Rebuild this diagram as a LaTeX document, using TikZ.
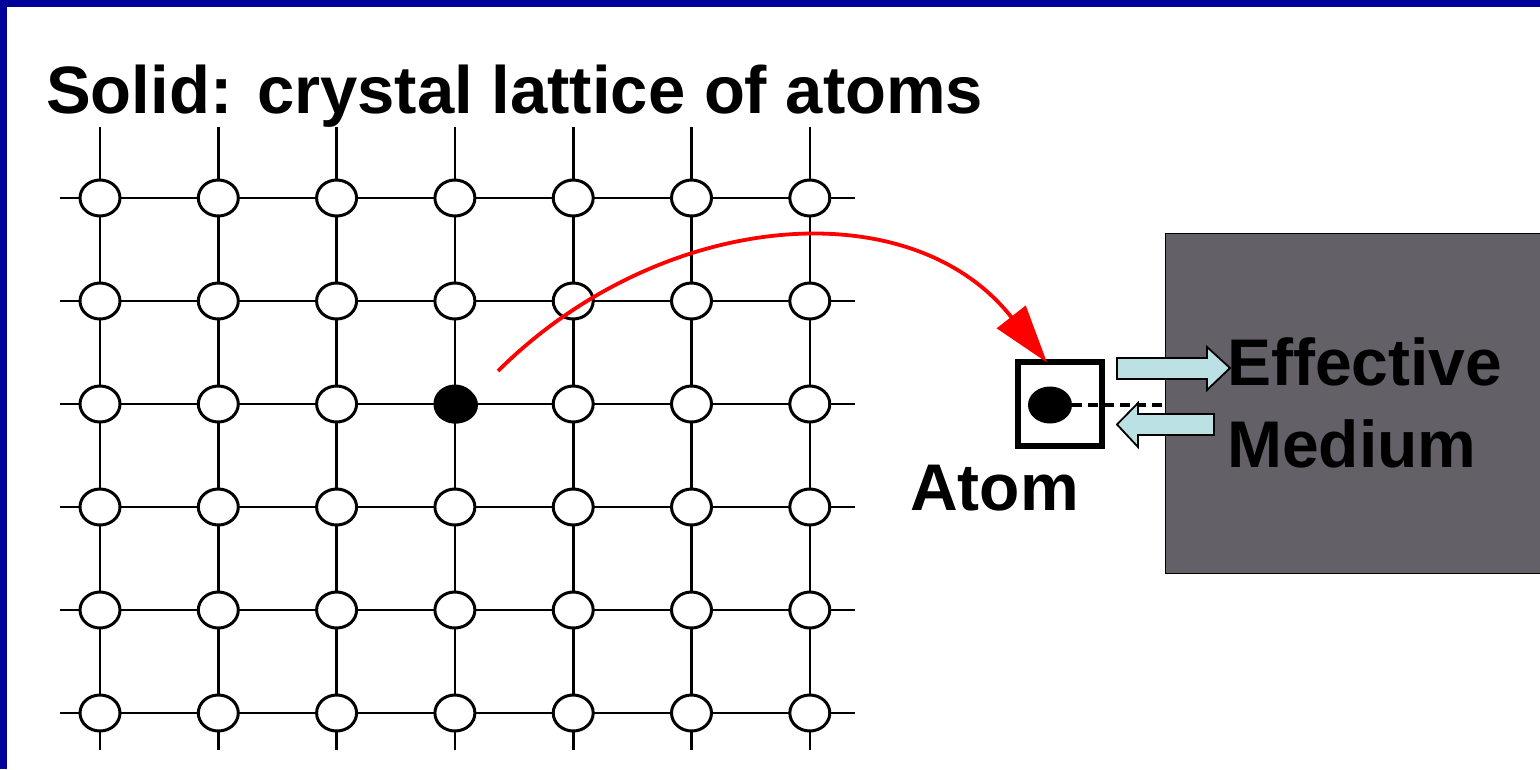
\documentclass[tikz,border=0pt]{standalone}
\usepackage{fontspec}
\setmainfont{Liberation Sans}
\usetikzlibrary{arrows.meta,positioning,calc,shapes.geometric}

\definecolor{frameblue}{RGB}{0,0,155}
\definecolor{mediumgray}{RGB}{100,96,104}
\definecolor{flowcyan}{RGB}{188,225,228}

\begin{document}
\begin{tikzpicture}[
  x=1pt, y=-1pt,
  big/.style={font=\fontsize{66}{82}\selectfont\bfseries, inner sep=0pt, anchor=base west},
  bond/.style={line width=2.6pt},
  site/.style={ellipse, draw, line width=3pt, fill=white, minimum width=40pt, minimum height=36pt, inner sep=0pt},
  picked/.style={ellipse, fill=black, minimum width=44pt, minimum height=37pt, inner sep=0pt},
  medium/.style={draw, line width=1.2pt, fill=mediumgray, anchor=north west, minimum width=400pt, minimum height=340pt},
  flow/.style={draw, line width=1.8pt, fill=flowcyan},
  jump/.style={red, line width=3.8pt, -{Triangle[length=58pt,width=36pt]}}]
  \useasboundingbox (0,0) rectangle (1540,769);
  \fill[frameblue] (0,0) rectangle (7,769);
  \fill[frameblue] (0,0) rectangle (1540,7);
  \node[big, font=\fontsize{67}{82}\selectfont\bfseries] (title) at (46,113) {Solid: crystal lattice of atoms};
  % lattice
  \foreach \j in {0,...,5}
    \draw[bond] (60,198+103*\j) -- (855,198+103*\j);
  \foreach \i in {0,...,6}
    \draw[bond] (100+118.3*\i,127) -- (100+118.3*\i,750);
  \foreach \i in {0,...,6}
    \foreach \j in {0,...,5}
      \node[site] (a-\i-\j) at (100+118.3*\i,198+103*\j) {};
  \node[picked] (a-3-2) at (456,405) {};
  % effective medium
  \node[medium] (medium) at (1165,233) {};
  \node[big] (eff) at (1227,385) {Effective};
  \node[big] (med) at (1227,467) {Medium};
  \node[draw, line width=6pt, minimum size=84pt, inner sep=0pt] (cell) at (1060,403.5) {};
  \node[picked] (probe) at (1050,405) {};
  \node[big] (atom) at (910,510) {Atom};
  \draw[line width=4pt, dash pattern=on 10pt off 6pt] (probe.east) -- (probe.east -| medium.west);
  \draw[flow] (1117,358) -- (1207,358) -- (1207,347) -- (1230,368) -- (1207,390) -- (1207,379) -- (1117,379) -- cycle;
  \draw[flow] (1214,414) -- (1138,414) -- (1138,403) -- (1117,424.5) -- (1138,447) -- (1138,435) -- (1214,435) -- cycle;
  \draw[jump] ([shift={(42,-34)}]a-3-2.center) .. controls (660,210) and (910,188) .. ([xshift=-13pt,yshift=-4pt]cell.north);
\end{tikzpicture}
\end{document}
